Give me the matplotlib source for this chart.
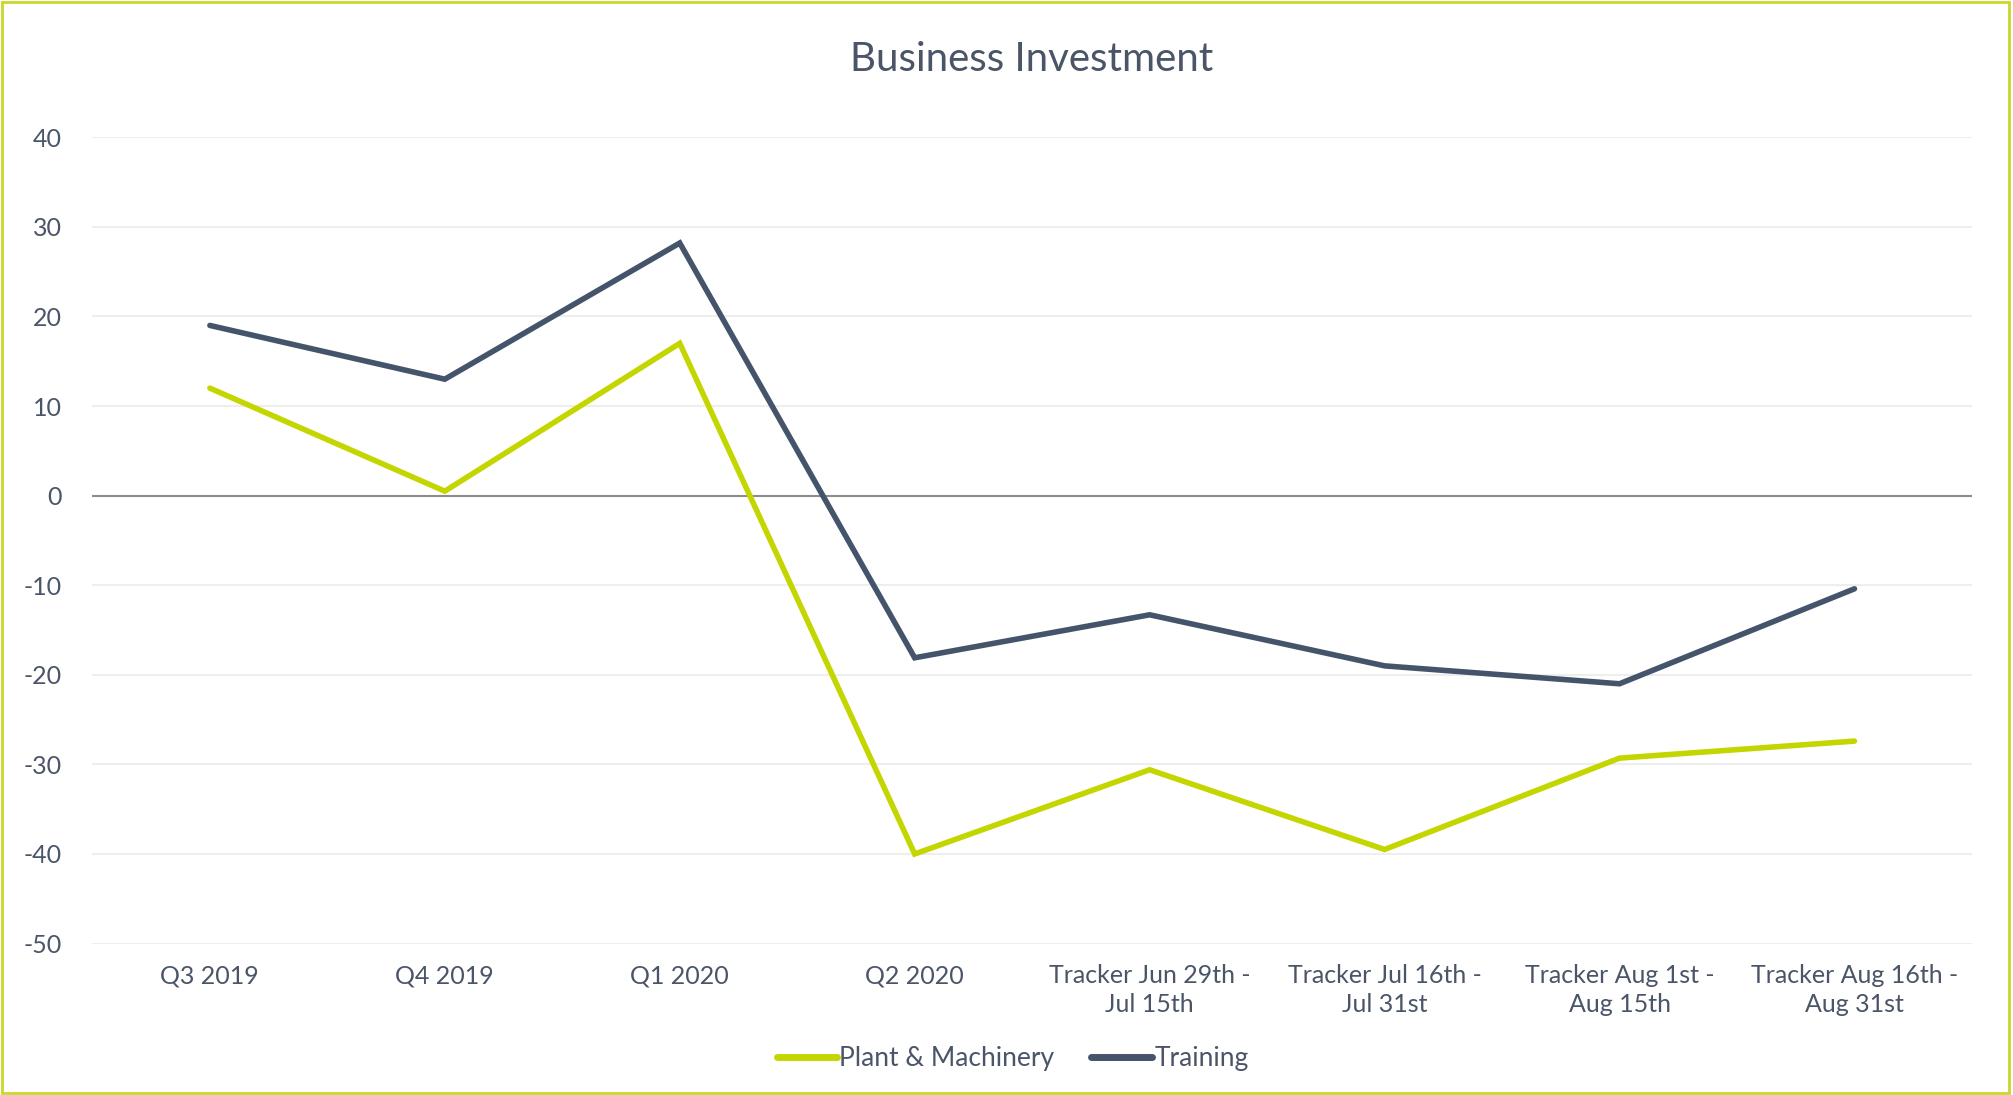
import matplotlib
matplotlib.use("Agg")
import matplotlib.pyplot as plt
from matplotlib.patches import Rectangle

categories = ["Q3 2019", "Q4 2019", "Q1 2020", "Q2 2020",
              "Tracker Jun 29th -\nJul 15th", "Tracker Jul 16th -\nJul 31st",
              "Tracker Aug 1st -\nAug 15th", "Tracker Aug 16th -\nAug 31st"]
plant = [12, 0.5, 17, -40, -30.6, -39.5, -29.3, -27.4]
training = [19, 13, 28.2, -18.1, -13.3, -19, -21, -10.4]
yticks = [40, 30, 20, 10, 0, -10, -20, -30, -40, -50]

GREEN = "#c4d600"
NAVY = "#44546a"
TEXT = "#4a5568"

plt.rcParams['font.family'] = ['Lato', 'DejaVu Sans']

fig = plt.figure(figsize=(20.13, 10.95), dpi=100)
ax = fig.add_axes([0.0459, 0.1383, 0.9337, 0.7363])

x = list(range(len(categories)))
ax.plot(x, plant, color=GREEN, lw=4.0, solid_capstyle='round', solid_joinstyle='miter', label="Plant & Machinery", zorder=3)
ax.plot(x, training, color=NAVY, lw=4.0, solid_capstyle='round', solid_joinstyle='miter', label="Training", zorder=3)

ax.set_xlim(-0.5, len(categories) - 0.5)
ax.set_ylim(-50, 40)
ax.set_yticks(yticks)
ax.set_yticklabels([str(v) for v in yticks])
ax.set_xticks(x)
ax.set_xticklabels(categories, linespacing=1.3)
for v in yticks:
    if v == 0:
        ax.axhline(v, color="#8c8c8c", lw=1.5, zorder=2)
    else:
        ax.axhline(v, color="#eeeeee", lw=1.5, zorder=1)
for s in ax.spines.values():
    s.set_visible(False)
ax.tick_params(axis='both', length=0, labelsize=18, labelcolor=TEXT)
ax.tick_params(axis='y', pad=22)
ax.tick_params(axis='x', pad=15)
for lab in ax.get_yticklabels():
    lab.set_horizontalalignment('right')

fig.text(0.5125, 0.946, "Business Investment", ha='center', va='center', fontsize=29, color=TEXT)

leg = fig.legend(loc='center', bbox_to_anchor=(0.503, 0.033), ncol=2, frameon=False,
                 fontsize=19, handlelength=2.3, handletextpad=0.08, columnspacing=1.4)
for t in leg.get_texts():
    t.set_color(TEXT)
for h in leg.get_lines():
    h.set_linewidth(5)

fig.patches.append(Rectangle((0.001, 0.002), 0.997, 0.996, transform=fig.transFigure,
                             fill=False, edgecolor="#c8d72a", lw=2))

fig.savefig("out.png", dpi=100)
